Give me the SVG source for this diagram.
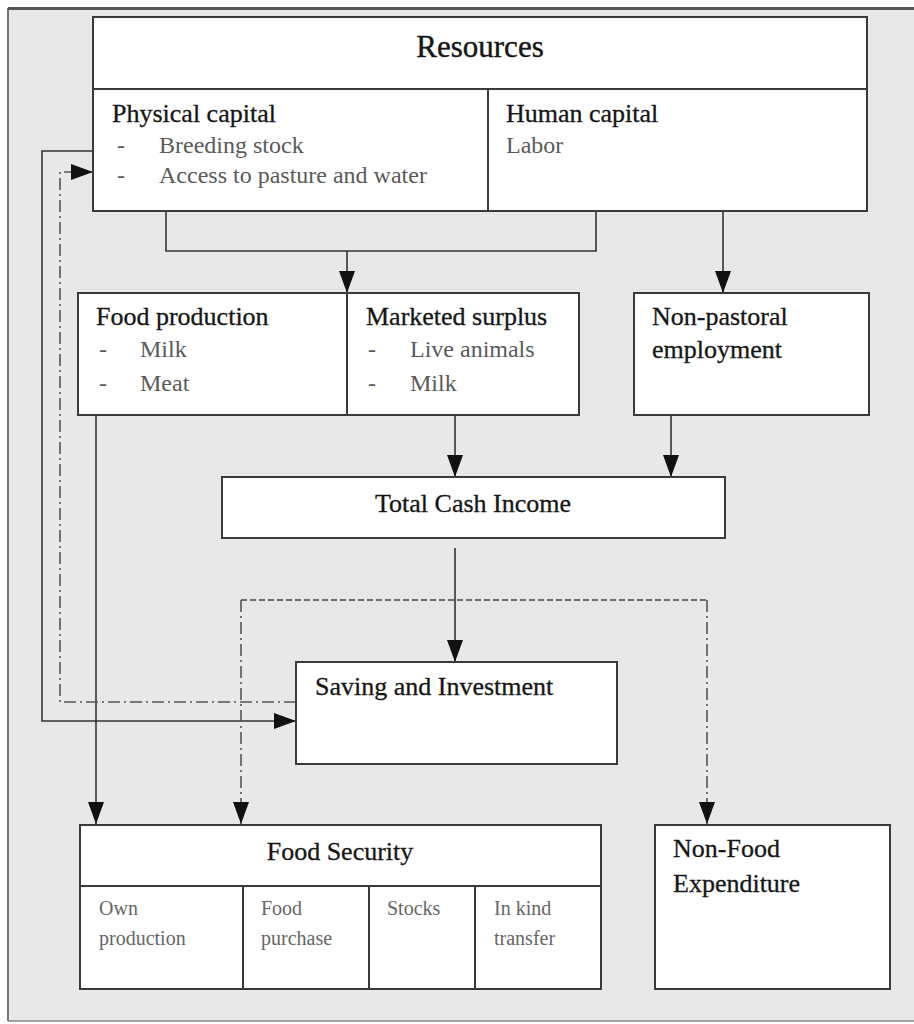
<svg xmlns="http://www.w3.org/2000/svg" width="914" height="1024" viewBox="0 0 914 1024">
<defs>
<marker id="ah" markerUnits="userSpaceOnUse" markerWidth="22" markerHeight="16" refX="22" refY="8" orient="auto">
<path d="M0,0 L22,8 L0,16 Z" fill="#111"/>
</marker>
<style>
.box{fill:#fff;stroke:#3a3a3a;stroke-width:2}
.div{stroke:#3a3a3a;stroke-width:2;fill:none}
.ln{fill:none;stroke:#333;stroke-width:1.6}
.dash{fill:none;stroke:#444;stroke-width:1.6;stroke-dasharray:6 3}
.dd{fill:none;stroke:#555;stroke-width:1.6;stroke-dasharray:12 4 2 4}
.t{font-family:"Liberation Serif","Times New Roman",serif;fill:#161616}
.h{font-size:26px;stroke:#161616;stroke-width:0.3}
.big{font-size:31px;stroke:#161616;stroke-width:0.4}
.it{font-size:24px;fill:#5a5a5a}
.sm{font-size:20px;fill:#666}
</style>
</defs>
<rect x="0" y="0" width="914" height="1024" fill="#fff"/>
<rect x="8" y="8" width="906" height="1013" fill="#e8e8e8"/>
<path d="M8,1021 L8,9 L914,9" fill="none" stroke="#777" stroke-width="2"/>
<line x1="8" y1="8.5" x2="914" y2="8.5" stroke="#555" stroke-width="3"/>
<line x1="8" y1="1021" x2="914" y2="1021" stroke="#888" stroke-width="1.5"/>

<g id="connectors">
<path class="ln" d="M166,211 L166,251 L596,251 L596,211"/>
<path class="ln" d="M347,251 L347,293" marker-end="url(#ah)"/>
<path class="ln" d="M723,211 L723,293" marker-end="url(#ah)"/>
<path class="ln" d="M455,415 L455,477" marker-end="url(#ah)"/>
<path class="ln" d="M671,415 L671,477" marker-end="url(#ah)"/>
<path class="ln" d="M455,548 L455,662" marker-end="url(#ah)"/>
<path class="ln" d="M96,415 L96,824" marker-end="url(#ah)"/>
<path class="ln" d="M94,151 L42,151 L42,721 L296,721" marker-end="url(#ah)"/>
<path class="dd" d="M296,702 L60,702 L60,172 L93,172" marker-end="url(#ah)"/>
<path class="dash" d="M241,600 L707,600"/>
<path class="dd" d="M241,600 L241,824" marker-end="url(#ah)"/>
<path class="dd" d="M707,600 L707,824" marker-end="url(#ah)"/>
</g>

<g id="resources">
<rect class="box" x="93" y="17" width="774" height="194"/>
<line class="div" x1="93" y1="89" x2="867" y2="89"/>
<line class="div" x1="488" y1="89" x2="488" y2="211"/>
<text class="t big" x="480" y="57" text-anchor="middle">Resources</text>
<text class="t h" x="112" y="122">Physical capital</text>
<text class="t it" x="117" y="153">-</text>
<text class="t it" x="159" y="153">Breeding stock</text>
<text class="t it" x="117" y="183">-</text>
<text class="t it" x="159" y="183">Access to pasture and water</text>
<text class="t h" x="506" y="122">Human capital</text>
<text class="t it" x="506" y="153">Labor</text>
</g>

<g id="production">
<rect class="box" x="78" y="293" width="501" height="122"/>
<line class="div" x1="347" y1="293" x2="347" y2="415"/>
<text class="t h" x="96" y="325">Food production</text>
<text class="t it" x="99" y="357">-</text>
<text class="t it" x="140" y="357">Milk</text>
<text class="t it" x="99" y="391">-</text>
<text class="t it" x="140" y="391">Meat</text>
<text class="t h" x="366" y="325">Marketed surplus</text>
<text class="t it" x="368" y="357">-</text>
<text class="t it" x="410" y="357">Live animals</text>
<text class="t it" x="368" y="391">-</text>
<text class="t it" x="410" y="391">Milk</text>
</g>

<g id="nonpastoral">
<rect class="box" x="634" y="293" width="235" height="122"/>
<text class="t h" x="652" y="325">Non-pastoral</text>
<text class="t h" x="652" y="358">employment</text>
</g>

<g id="income">
<rect class="box" x="222" y="477" width="503" height="61"/>
<text class="t h" x="473" y="512" text-anchor="middle">Total Cash Income</text>
</g>

<g id="saving">
<rect class="box" x="296" y="662" width="321" height="102"/>
<text class="t h" x="315" y="695">Saving and Investment</text>
</g>

<g id="foodsecurity">
<rect class="box" x="80" y="825" width="521" height="164"/>
<line class="div" x1="80" y1="886" x2="601" y2="886"/>
<line class="div" x1="243" y1="886" x2="243" y2="989"/>
<line class="div" x1="369" y1="886" x2="369" y2="989"/>
<line class="div" x1="475" y1="886" x2="475" y2="989"/>
<text class="t h" x="340" y="860" text-anchor="middle">Food Security</text>
<text class="t sm" x="99" y="915">Own</text>
<text class="t sm" x="99" y="945">production</text>
<text class="t sm" x="261" y="915">Food</text>
<text class="t sm" x="261" y="945">purchase</text>
<text class="t sm" x="387" y="915">Stocks</text>
<text class="t sm" x="494" y="915">In kind</text>
<text class="t sm" x="494" y="945">transfer</text>
</g>

<g id="nonfood">
<rect class="box" x="655" y="825" width="235" height="164"/>
<text class="t h" x="673" y="857">Non-Food</text>
<text class="t h" x="673" y="892">Expenditure</text>
</g>
</svg>
